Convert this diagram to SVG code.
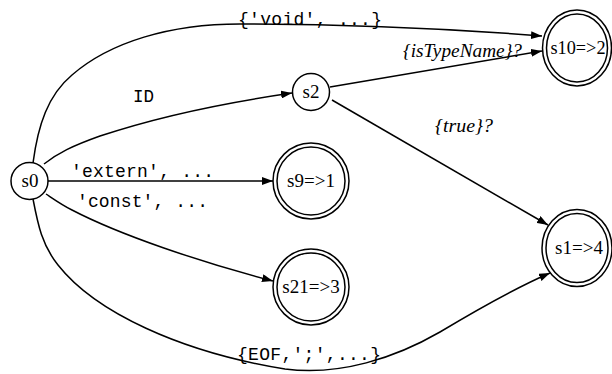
<svg xmlns="http://www.w3.org/2000/svg" width="612" height="374" viewBox="0 0 612 374">
<style>
.n{fill:none;stroke:#000;stroke-width:1.5}
.e{fill:none;stroke:#000;stroke-width:1.5}
.t{font-family:"Liberation Serif",serif;font-size:19px;text-anchor:middle;fill:#000}
.m{font-family:"Liberation Mono",monospace;font-size:18px;fill:#000}
.i{font-family:"Liberation Serif",serif;font-size:19px;font-style:italic;fill:#000}
</style>
<defs>
<marker id="a" viewBox="0 0 11 8" refX="11" refY="4" markerWidth="11" markerHeight="8" markerUnits="userSpaceOnUse" orient="auto">
<path d="M0,0L11,4L0,8z" fill="#000"/>
</marker>
</defs>
<rect width="612" height="374" fill="#fff"/>
<g id="edges">
<path class="e" marker-end="url(#a)" d="M33,163 C38,125 48,95 72,75 C110,42 170,24 240,24 C330,24 440,28 542,36"/>
<path class="e" marker-end="url(#a)" d="M44,164 C58,153 72,146 100,136 C160,116 230,102 292,93"/>
<path class="e" marker-end="url(#a)" d="M48,181 L273,181"/>
<path class="e" marker-end="url(#a)" d="M46,194 C55,200 62,205 72,210 C120,235 200,262 273,281"/>
<path class="e" marker-end="url(#a)" d="M33,199 C38,225 42,245 58,265 C95,312 180,352 285,369 C340,376 395,358 440,332 C480,308 520,286 550,273"/>
<path class="e" marker-end="url(#a)" d="M330,87 L542,51"/>
<path class="e" marker-end="url(#a)" d="M332,100 L548,225"/>
</g>
<g id="labels">
<text class="m" x="238" y="25" textLength="144" lengthAdjust="spacing">{'void', ...}</text>
<text class="m" x="133" y="102" textLength="21" lengthAdjust="spacingAndGlyphs">ID</text>
<text class="m" x="71" y="177" textLength="143" lengthAdjust="spacing">'extern', ...</text>
<text class="m" x="77" y="207" textLength="131" lengthAdjust="spacing">'const', ...</text>
<text class="m" x="237" y="360" textLength="144" lengthAdjust="spacing">{EOF,';',...}</text>
<text class="i" x="403" y="57" textLength="119" lengthAdjust="spacingAndGlyphs">{isTypeName}?</text>
<text class="i" x="435" y="132" textLength="58" lengthAdjust="spacingAndGlyphs">{true}?</text>
</g>
<g id="s0">
<circle class="n" cx="29.5" cy="181" r="18.5"/>
<text class="t" x="30" y="187">s0</text>
</g>
<g id="s2">
<circle class="n" cx="311" cy="92" r="18.5"/>
<text class="t" x="311" y="98">s2</text>
</g>
<g id="s9">
<circle class="n" cx="311" cy="181" r="38"/>
<circle class="n" cx="311" cy="181" r="34"/>
<text class="t" x="311" y="187">s9=&gt;1</text>
</g>
<g id="s21">
<circle class="n" cx="311" cy="287" r="38"/>
<circle class="n" cx="311" cy="287" r="34"/>
<text class="t" x="311" y="293">s21=&gt;3</text>
</g>
<g id="s10">
<ellipse class="n" cx="577" cy="48" rx="34.5" ry="38"/>
<ellipse class="n" cx="577" cy="48" rx="30.5" ry="34"/>
<text class="t" x="578" y="54" textLength="55" lengthAdjust="spacingAndGlyphs">s10=&gt;2</text>
</g>
<g id="s1">
<ellipse class="n" cx="577" cy="248" rx="35" ry="38.5"/>
<ellipse class="n" cx="577" cy="248" rx="31" ry="34.5"/>
<text class="t" x="579" y="254">s1=&gt;4</text>
</g>
</svg>
